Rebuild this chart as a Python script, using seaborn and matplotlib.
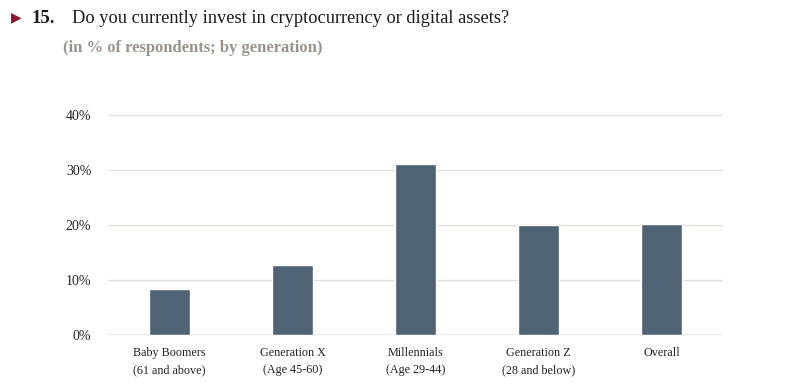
import matplotlib
matplotlib.use("Agg")
import matplotlib.pyplot as plt
import seaborn as sns
import pandas as pd

categories = ["Baby Boomers\n(61 and above)", "Generation X\n(Age 45-60)", "Millennials\n(Age 29-44)",
              "Generation Z\n(28 and below)", "Overall"]
values = [8.4, 12.7, 31.1, 20.0, 20.2]
yticks = [0, 10, 20, 30, 40]
ytick_labels = ["0%", "10%", "20%", "30%", "40%"]

sns.set_theme(style="white")
plt.rcParams['font.family'] = ['Liberation Serif', 'DejaVu Serif']

df = pd.DataFrame({"cat": categories, "val": values})
fig = plt.figure(figsize=(8, 3.88), dpi=100)
ax = fig.add_axes([0.135, 0.1366, 0.769, 0.567])
sns.barplot(data=df, x="cat", y="val", color="#4f6374", width=0.33, ax=ax, saturation=1)
ax.set_xlim(-0.5, 4.5)
ax.set_ylim(0, 40)
ax.set_yticks(yticks)
ax.set_yticklabels(ytick_labels, fontsize=10, color="#222222")
ax.tick_params(axis='x', labelsize=8.7, colors="#222222", length=0, pad=9)
ax.tick_params(axis='y', length=0, pad=12)
for lab in ax.get_xticklabels():
    lab.set_linespacing(1.55)
ax.set_xlabel("")
ax.set_ylabel("")
for s in ax.spines.values():
    s.set_visible(False)
ax.grid(axis='y', color="#e2dfda", linewidth=1)
ax.set_axisbelow(True)
ax.axhline(0, color="#e8e6e2", linewidth=2, zorder=0)

fig.text(0.014, 0.956, "\u25B6", color="#8b1a2e", fontsize=10, va="center", family=["DejaVu Sans"])
fig.text(0.039, 0.953, "15.", fontsize=13.5, fontweight="bold", color="#1a1a1a", va="center")
fig.text(0.09, 0.953, "Do you currently invest in cryptocurrency or digital assets?", fontsize=13.2,
         color="#1a1a1a", va="center")
fig.text(0.079, 0.877, "(in % of respondents; by generation)", fontsize=12, fontweight="bold",
         color="#9b928a", va="center")

fig.savefig("out.png", dpi=100)
